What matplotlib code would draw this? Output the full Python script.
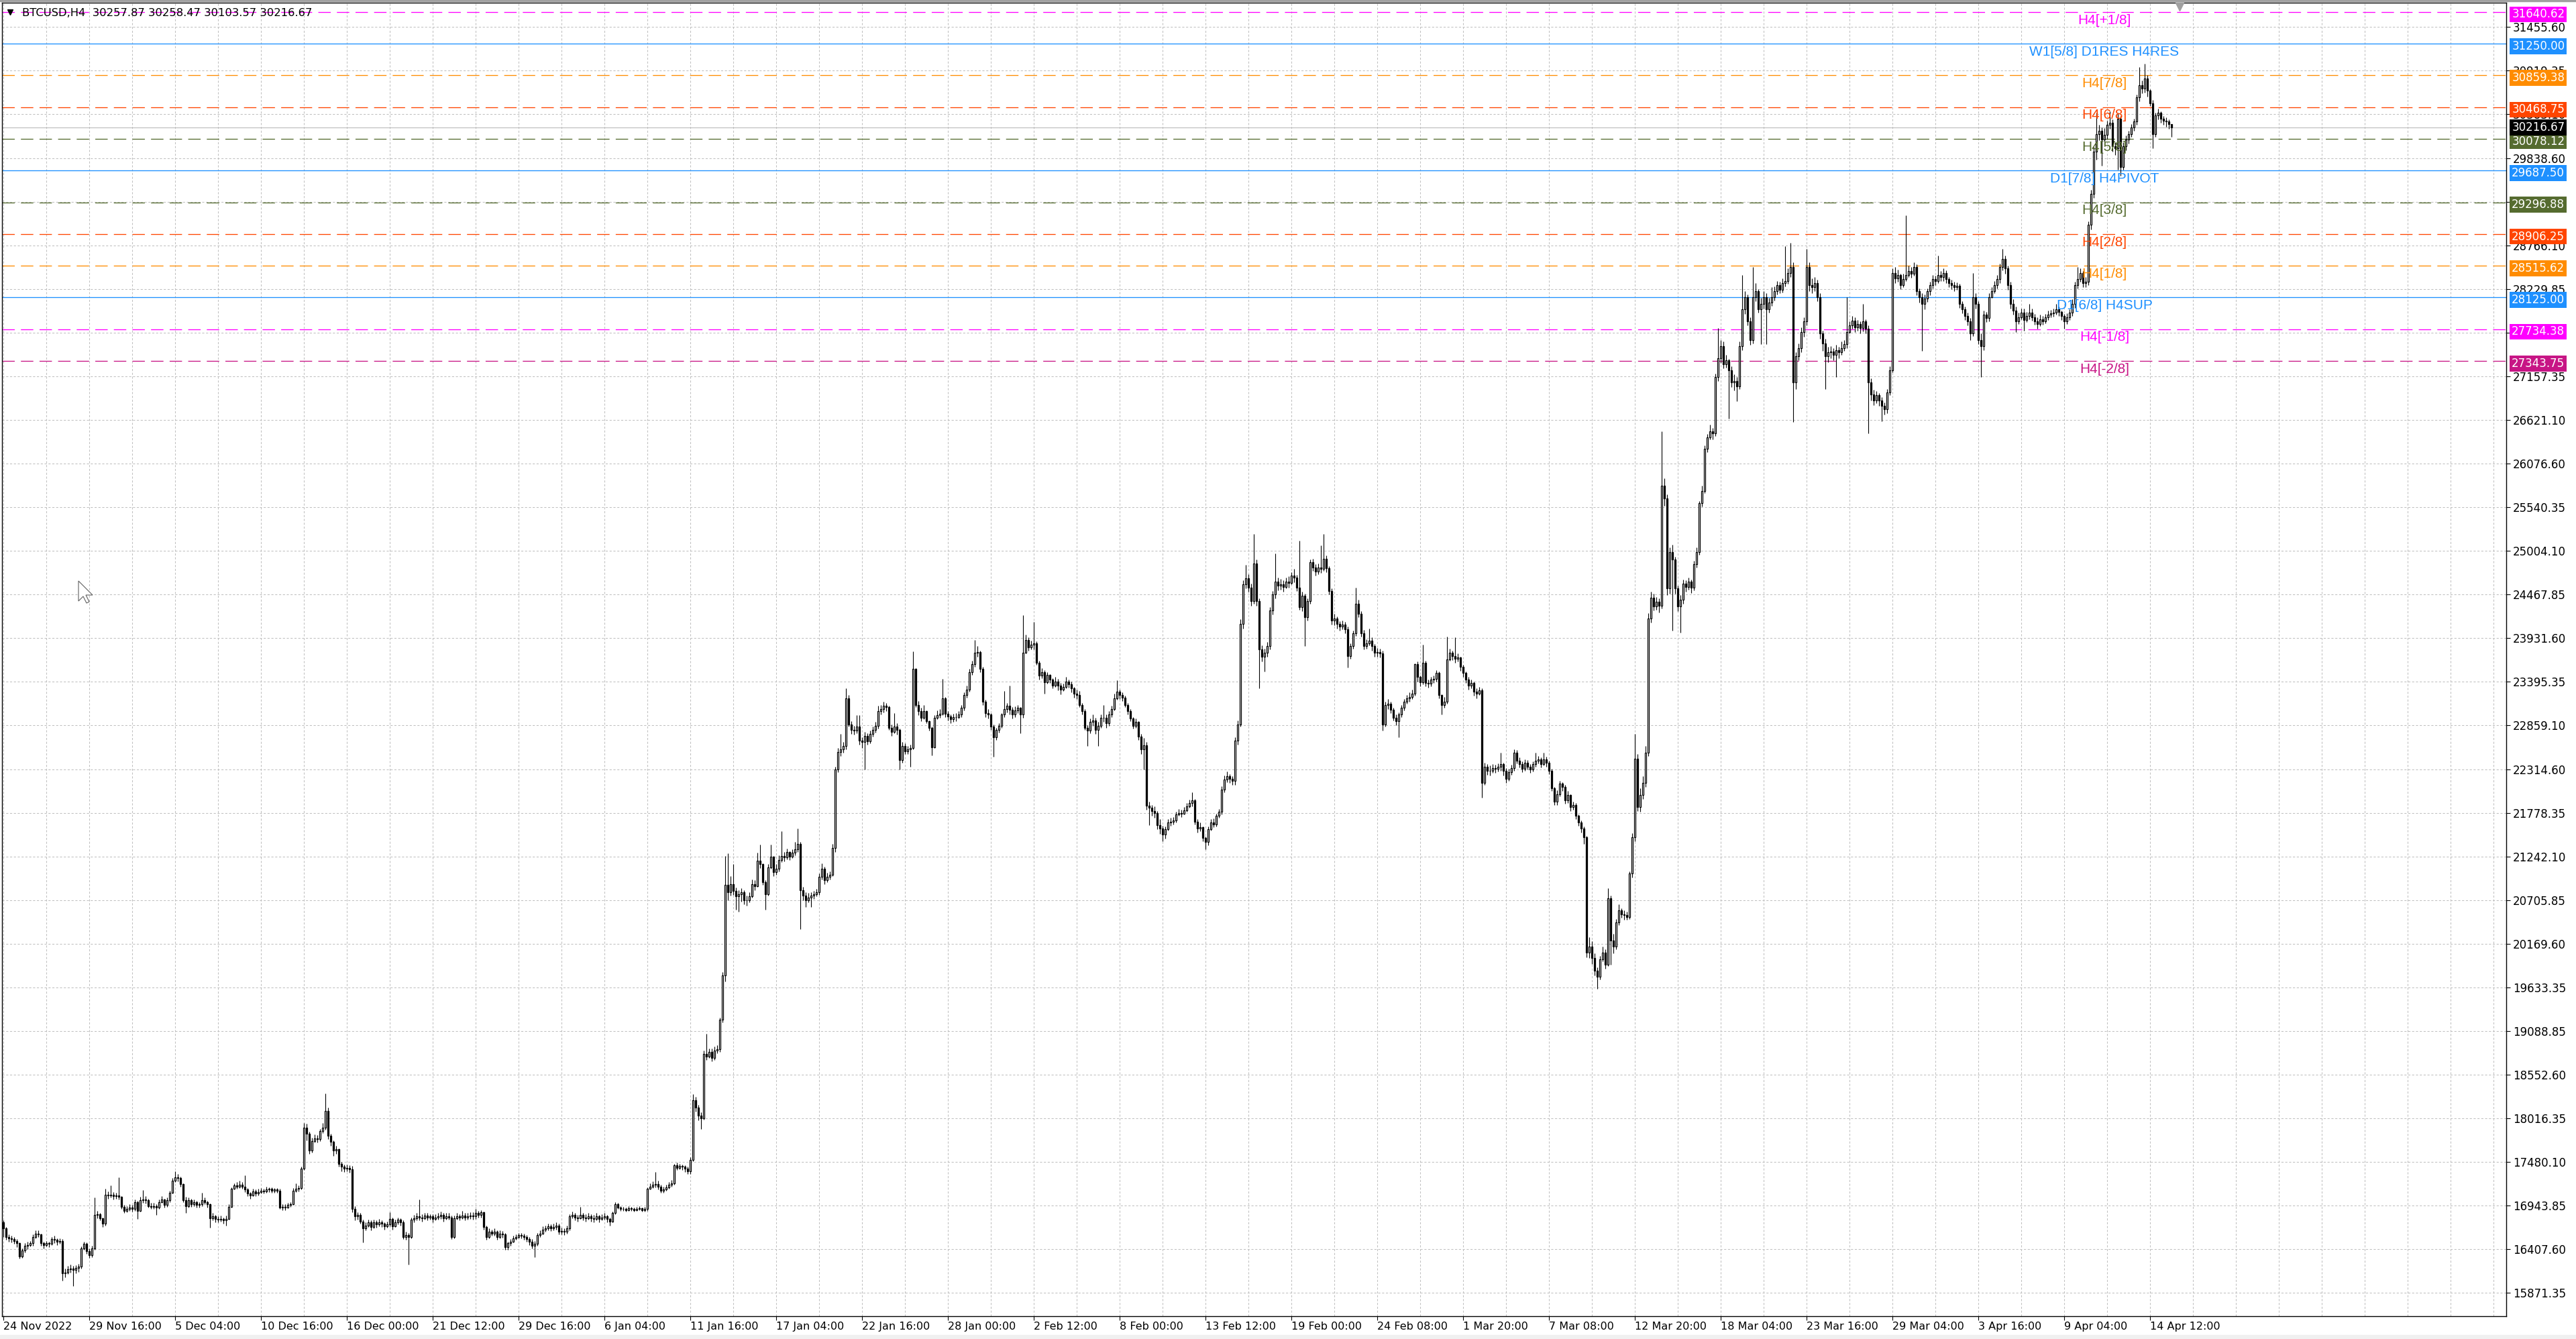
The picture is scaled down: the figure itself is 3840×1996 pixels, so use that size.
import matplotlib.pyplot as plt
import numpy as np
from matplotlib.patches import Polygon, Rectangle
from matplotlib.transforms import blended_transform_factory

# BTCUSD H4 candles, one row = 16 bars (one grid cell)
first_open = 16740.0
closes = [
    16660, 16560, 16540, 16530, 16510, 16480, 16320, 16390, 16450, 16460, 16480, 16560, 16600, 16590, 16480, 16460,
    16480, 16470, 16530, 16520, 16500, 16510, 16110, 16120, 16160, 16170, 16150, 16180, 16190, 16420, 16470, 16380,
    16330, 16420, 16830, 16840, 16790, 16720, 17080, 17070, 17080, 17060, 17070, 17050, 16930, 16880, 16900, 16920,
    16900, 16990, 16880, 17010, 17020, 17010, 16940, 16930, 16940, 16920, 16990, 17020, 16950, 17010, 17100, 17250,
    17290, 17280, 17210, 17010, 16940, 17010, 16960, 16990, 16950, 16960, 17010, 16990, 16960, 16790, 16810, 16780,
    16770, 16780, 16760, 16780, 16930, 17150, 17190, 17180, 17200, 17180, 17140, 17090, 17070, 17120, 17090, 17110,
    17130, 17120, 17140, 17150, 17130, 17140, 17130, 16920, 16930, 16920, 16950, 16960, 17130, 17150, 17160, 17400,
    17900, 17830, 17620, 17740, 17770, 17760, 17860, 17900, 18110, 17800, 17730, 17620, 17640, 17460, 17420, 17400,
    17410, 17390, 16900, 16810, 16830, 16750, 16660, 16700, 16740, 16680, 16740, 16710, 16740, 16720, 16690, 16710,
    16780, 16690, 16740, 16770, 16740, 16560, 16580, 16560, 16770, 16790, 16810, 16800, 16790, 16820, 16800, 16810,
    16780, 16800, 16810, 16830, 16790, 16810, 16800, 16560, 16790, 16810, 16800, 16820, 16800, 16810, 16820, 16810,
    16850, 16830, 16860, 16680, 16560, 16620, 16600, 16620, 16560, 16600, 16590, 16430, 16480, 16500, 16540, 16560,
    16580, 16570, 16560, 16530, 16500, 16450, 16470, 16580, 16600, 16650, 16660, 16690, 16660, 16680, 16700, 16620,
    16630, 16620, 16660, 16810, 16830, 16800, 16790, 16830, 16800, 16790, 16810, 16790, 16780, 16810, 16780, 16800,
    16810, 16780, 16750, 16850, 16960, 16920, 16900, 16900, 16890, 16910, 16900, 16890, 16900, 16910, 16890, 16900,
    17150, 17180, 17200, 17210, 17180, 17130, 17140, 17170, 17200, 17220, 17440, 17410, 17430, 17420, 17400, 17370,
    17510, 18240, 18150, 18050, 18020, 18810, 18780, 18840, 18760, 18850, 18870, 19230, 19780, 20890, 20800, 20900,
    20820, 20750, 20780, 20800, 20700, 20700, 20750, 20900, 20880, 21190, 21150, 20930, 20780, 21110, 21240, 21050,
    21090, 21200, 21250, 21230, 21300, 21240, 21290, 21330, 21400, 20830, 20760, 20700, 20740, 20760, 20780, 20800,
    20990, 21090, 20950, 20990, 21020, 21350, 22310, 22530, 22560, 22600, 23190, 22870, 22800, 22790, 22840, 22670,
    22650, 22730, 22660, 22750, 22800, 22850, 23030, 23060, 23100, 23080, 22830, 22780, 22840, 22800, 22430, 22600,
    22540, 22560, 22580, 23550, 23110, 23030, 22950, 23030, 22910, 22830, 22590, 22950, 22980, 23000, 23190, 23000,
    22970, 22930, 22960, 22960, 22990, 23070, 23230, 23300, 23510, 23610, 23750, 23760, 23550, 23150, 23010, 22990,
    22840, 22710, 22800, 22850, 22990, 23060, 23100, 23050, 22990, 23040, 23070, 22990, 23750, 23910, 23820, 23850,
    23870, 23630, 23470, 23510, 23390, 23480, 23420, 23350, 23400, 23350, 23300, 23330, 23400, 23360, 23310, 23250,
    23230, 23110, 23030, 22830, 22790, 22900, 22920, 22800, 22850, 22950, 22950, 22880, 22990, 23060, 23190, 23270,
    23230, 23200, 23110, 23030, 22940, 22850, 22900, 22720, 22560, 22610, 21870, 21840, 21800, 21780, 21630, 21590,
    21510, 21580, 21660, 21670, 21690, 21760, 21780, 21770, 21810, 21860, 21900, 21930, 21670, 21590, 21600, 21470,
    21420, 21580, 21660, 21640, 21740, 21790, 22070, 22190, 22230, 22200, 22170, 22670, 22870, 24110, 24590, 24670,
    24550, 24390, 24850, 24390, 23790, 23700, 23750, 23830, 24270, 24470, 24630, 24580, 24590, 24560, 24630, 24610,
    24700, 24680, 24550, 24310, 24450, 24190, 24390, 24870, 24800, 24750, 24800, 24780, 24910, 24790, 24510, 24150,
    24170, 24110, 24070, 24100, 24040, 23710, 23830, 23990, 24350, 24230, 23990, 23830, 23870, 23900, 23830, 23750,
    23760, 23740, 22870, 23110, 23120, 23050, 22950, 22910, 22990, 23070, 23150, 23190, 23210, 23250, 23610, 23450,
    23390, 23630, 23380, 23370, 23420, 23430, 23500, 23230, 23110, 23150, 23670, 23750, 23710, 23680, 23690, 23580,
    23500, 23420, 23350, 23380, 23270, 23250, 23290, 22150, 22350, 22300, 22300, 22330, 22320, 22350, 22380, 22300,
    22200, 22280, 22330, 22520, 22420, 22380, 22320, 22400, 22350, 22310, 22380, 22420, 22440, 22380, 22440, 22400,
    22300, 22080, 21920, 22010, 22140, 22100, 21930, 22000, 21850, 21880, 21740, 21660, 21590, 21480, 20060, 20130,
    19990, 19840, 19760, 19980, 20060, 19910, 20730, 20210, 20130, 20430, 20580, 20530, 20520, 20500, 21030, 21480,
    22450, 21850, 22000, 22150, 22520, 24170, 24430, 24320, 24380, 24330, 25810, 25650, 24540, 24990, 24900, 24540,
    24320, 24400, 24600, 24560, 24630, 24550, 24840, 24990, 25590, 25740, 26260, 26400, 26480, 26450, 27150, 27380,
    27530, 27300, 27350, 27230, 27080, 27100, 27030, 27530, 27980, 28130, 27830, 27600, 28130, 28200, 27980, 28050,
    28130, 27980, 28060, 28130, 28200, 28280, 28220, 28300, 28330, 28430, 28500, 27080, 27400, 27500, 27700, 27830,
    28500, 28280, 28250, 28300, 28130, 27680, 27560, 27400, 27450, 27460, 27420, 27480, 27450, 27500, 27550, 27700,
    27780, 27840, 27760, 27800, 27750, 27830, 27740, 27080, 26930, 26860, 26920, 26860, 26790, 26750, 26960, 27230,
    28430, 28360, 28400, 28280, 28350, 28400, 28450, 28420, 28500, 28200, 28130, 28050, 28110, 28200, 28280, 28350,
    28330, 28400, 28380, 28430, 28350, 28300, 28280, 28250, 28270, 28050, 27980, 27900, 27830, 27680, 28130, 28050,
    27600, 27530, 27910, 27870, 28130, 28200, 28280, 28350, 28500, 28600, 28480, 28280, 28050, 27960, 27830, 27880,
    27940, 27850, 27900, 27940, 27880, 27830, 27800, 27860, 27830, 27880, 27910, 27930, 27940, 27980, 27950, 27900,
    27830, 27880, 27940, 28050, 28280, 28350, 28430, 28300, 28320, 29020, 29400, 29920, 30140, 30180, 30070, 30130,
    30250, 30280, 29990, 29960, 30330, 29730, 29990, 30070, 30140, 30220, 30290, 30590, 30740, 30700, 30820, 30670,
    30520, 30140, 30370, 30400, 30330, 30300, 30290, 30257.87, 30216.67,
]
highs = [
    16760, 16680, 16590, 16570, 16560, 16530, 16490, 16420, 16480, 16500, 16510, 16590, 16640, 16640, 16600, 16500,
    16510, 16500, 16560, 16570, 16540, 16540, 16530, 16170, 16200, 16220, 16200, 16210, 16230, 16440, 16500, 16490,
    16420, 16450, 17040, 16880, 16850, 16800, 17150, 17120, 17190, 17110, 17100, 17290, 17060, 16950, 16940, 16960,
    16950, 17020, 17000, 17050, 17135, 17060, 17030, 16980, 16980, 16960, 17020, 17060, 17030, 17040, 17130, 17280,
    17370, 17330, 17300, 17220, 17050, 17040, 17030, 17020, 17000, 16990, 17100, 17040, 17000, 16970, 16850, 16830,
    16810, 16820, 16800, 16820, 16960, 17170, 17220, 17230, 17250, 17230, 17315, 17160, 17110, 17150, 17140, 17150,
    17160, 17150, 17180, 17170, 17170, 17160, 17160, 17150, 16960, 16960, 16980, 16990, 17160, 17220, 17190, 17420,
    17960, 17950, 17850, 17780, 17820, 17810, 17890, 17960, 18325, 18150, 17830, 17750, 17680, 17650, 17480, 17450,
    17450, 17440, 17430, 16940, 16860, 16850, 16770, 16740, 16770, 16760, 16770, 16760, 16780, 16760, 16740, 16750,
    16860, 16800, 16770, 16800, 16790, 16760, 16620, 16610, 16800, 16830, 16850, 17020, 16840, 16850, 16850, 16840,
    16840, 16840, 16850, 16870, 16850, 16850, 16850, 16820, 16820, 16850, 16840, 16880, 16850, 16850, 16860, 16860,
    16900, 16880, 16890, 16870, 16700, 16660, 16650, 16660, 16640, 16640, 16630, 16610, 16500, 16530, 16570, 16590,
    16610, 16610, 16600, 16580, 16560, 16530, 16510, 16610, 16640, 16690, 16700, 16720, 16710, 16720, 16740, 16720,
    16670, 16660, 16700, 16840, 16870, 16850, 16830, 16930, 16850, 16840, 16850, 16840, 16830, 16850, 16830, 16840,
    16850, 16830, 16800, 16870, 16990, 16980, 16940, 16930, 16920, 16940, 16930, 16920, 16930, 16940, 16920, 16930,
    17170, 17220, 17240, 17360, 17250, 17200, 17180, 17200, 17230, 17260, 17460, 17470, 17460, 17450, 17440, 17420,
    17540, 18320, 18280, 18180, 18090, 18850, 19060, 18880, 18880, 18900, 18920, 19260, 19820, 21250, 21280, 21000,
    21150, 20860, 20830, 20850, 20830, 20760, 20800, 20960, 20950, 21290, 21390, 21160, 20950, 21150, 21390, 21250,
    21150, 21260, 21550, 21300, 21340, 21310, 21330, 21420, 21590, 21420, 20870, 20800, 20790, 20800, 20820, 20840,
    21030, 21160, 21120, 21040, 21060, 21400, 22350, 22580, 22750, 22650, 23310, 23230, 22910, 22850, 22980, 22980,
    22710, 22780, 22760, 22790, 22840, 22900, 23100, 23110, 23150, 23130, 23100, 22870, 23010, 22880, 22820, 22650,
    22640, 22600, 22620, 23770, 23560, 23160, 23070, 23110, 23040, 22920, 22840, 22980, 23040, 23060, 23430, 23210,
    23030, 22990, 23000, 23010, 23030, 23110, 23260, 23350, 23550, 23650, 23910, 23830, 23780, 23580, 23170, 23060,
    23010, 22870, 22830, 22880, 23010, 23280, 23130, 23350, 23080, 23090, 23110, 23080, 24210, 23970, 23940, 23900,
    24130, 23890, 23650, 23560, 23540, 23510, 23490, 23440, 23450, 23430, 23380, 23370, 23450, 23420, 23400, 23330,
    23300, 23280, 23130, 23060, 22860, 22940, 22990, 22950, 22900, 22990, 23110, 22990, 23030, 23100, 23250, 23410,
    23300, 23260, 23220, 23130, 23060, 22960, 22940, 22910, 22750, 22700, 22650, 21920, 21880, 21860, 21800, 21700,
    21620, 21610, 21700, 21720, 21730, 21790, 21830, 21820, 21850, 21900, 21940, 22030, 21950, 21700, 21660, 21610,
    21490, 21610, 21700, 21710, 21770, 21830, 22110, 22240, 22290, 22260, 22230, 22710, 22920, 24160, 24640, 24830,
    24720, 24600, 25210, 24900, 24420, 23840, 23800, 23880, 24310, 24510, 24970, 24680, 24660, 24640, 24680, 24690,
    24740, 24780, 24710, 25130, 24500, 24480, 24420, 24900, 24910, 24840, 24850, 25070, 25210, 24950, 24820, 24540,
    24230, 24200, 24140, 24150, 24130, 24070, 23870, 24020, 24550, 24400, 24260, 24030, 23920, 24050, 23940, 23860,
    23810, 23800, 23780, 23150, 23180, 23150, 23070, 22990, 23020, 23110, 23180, 23230, 23260, 23300, 23620, 23640,
    23470, 23850, 23650, 23420, 23450, 23470, 23540, 23520, 23240, 23210, 23950, 23800, 23780, 23940, 23740, 23700,
    23600, 23520, 23450, 23420, 23400, 23310, 23330, 23310, 22400, 22380, 22360, 22380, 22370, 22390, 22520, 22400,
    22330, 22320, 22370, 22560, 22550, 22460, 22410, 22440, 22430, 22380, 22410, 22520, 22480, 22460, 22520, 22470,
    22420, 22320, 22100, 22060, 22170, 22160, 22120, 22050, 22010, 21920, 21900, 21760, 21690, 21610, 21500, 20250,
    20200, 20050, 19880, 20020, 20130, 20100, 20850, 20760, 20290, 20470, 20650, 20600, 20580, 20560, 21060, 21530,
    22750, 22500, 22080, 22230, 22600, 24240, 24500, 24480, 24440, 24420, 26480, 25900, 25700, 25050, 25080, 24930,
    24580, 24460, 24650, 24640, 24680, 24650, 24880, 25050, 25620, 25810, 26300, 26440, 26560, 26520, 27190, 27750,
    27600, 27580, 27420, 27370, 27280, 27180, 27150, 27580, 28400, 28200, 28160, 27880, 28500, 28300, 28230, 28120,
    28200, 28180, 28120, 28250, 28260, 28330, 28320, 28360, 28760, 28480, 28800, 28560, 27450, 27560, 27760, 27880,
    28720, 28560, 28360, 28380, 28340, 28180, 27720, 27620, 27520, 27530, 27500, 27540, 27520, 27580, 27600, 28130,
    27830, 27900, 27880, 27850, 27830, 28050, 27860, 27780, 27130, 26990, 26970, 26950, 26900, 26830, 27000, 27280,
    28480, 28500, 28470, 28420, 28420, 29140, 28520, 28500, 28560, 28530, 28240, 28180, 28160, 28240, 28320, 28400,
    28390, 28640, 28450, 28480, 28460, 28380, 28340, 28320, 28310, 28290, 28080, 28010, 27940, 27870, 28430, 28180,
    28080, 27680, 27960, 27950, 28180, 28250, 28330, 28400, 28540, 28720, 28640, 28520, 28320, 28100, 28010, 27940,
    27990, 27990, 27950, 28050, 27990, 27920, 27880, 27910, 27900, 27920, 27960, 27970, 27990, 28050, 28010, 27960,
    27920, 27930, 27980, 28100, 28320, 28500, 28480, 28450, 28380, 29060, 29450, 29980, 30400, 30250, 30220, 30210,
    30300, 30420, 30320, 30040, 30400, 30360, 30040, 30120, 30180, 30260, 30330, 30620, 30960, 30800, 31000, 30860,
    30690, 30560, 30400, 30450, 30420, 30360, 30340, 30320, 30258.47,
]
lows = [
    16560, 16520, 16500, 16490, 16470, 16430, 16290, 16300, 16370, 16410, 16440, 16450, 16540, 16560, 16450, 16420,
    16440, 16430, 16460, 16480, 16460, 16470, 16020, 16060, 16100, 16120, 15950, 16110, 16130, 16170, 16400, 16350,
    16300, 16310, 16400, 16790, 16760, 16680, 16700, 17030, 17040, 17020, 17030, 17020, 16900, 16850, 16860, 16880,
    16870, 16880, 16780, 16870, 16980, 16970, 16920, 16900, 16900, 16830, 16900, 16980, 16920, 16930, 16990, 17090,
    17230, 17240, 17180, 16990, 16850, 16920, 16930, 16940, 16920, 16920, 16940, 16960, 16920, 16670, 16760, 16740,
    16740, 16750, 16720, 16700, 16770, 16920, 17140, 17150, 17160, 17150, 17110, 17060, 17030, 17060, 17060, 17070,
    17090, 17090, 17100, 17110, 17100, 17100, 17100, 16900, 16890, 16890, 16910, 16930, 16950, 17110, 17120, 17140,
    17380, 17750, 17580, 17600, 17720, 17720, 17740, 17840, 17880, 17760, 17680, 17560, 17580, 17420, 17370, 17360,
    17370, 17350, 16860, 16760, 16770, 16720, 16490, 16640, 16680, 16640, 16660, 16670, 16690, 16680, 16650, 16670,
    16690, 16650, 16680, 16710, 16700, 16530, 16520, 16220, 16540, 16740, 16760, 16760, 16750, 16770, 16760, 16770,
    16740, 16760, 16770, 16780, 16750, 16770, 16770, 16530, 16540, 16770, 16760, 16780, 16760, 16770, 16780, 16770,
    16780, 16800, 16800, 16650, 16520, 16540, 16570, 16570, 16520, 16540, 16550, 16400, 16400, 16450, 16490, 16520,
    16540, 16540, 16520, 16500, 16460, 16420, 16305, 16450, 16560, 16590, 16620, 16640, 16630, 16640, 16650, 16590,
    16590, 16580, 16600, 16640, 16790, 16760, 16750, 16780, 16760, 16750, 16770, 16750, 16740, 16760, 16740, 16760,
    16770, 16740, 16700, 16740, 16840, 16900, 16880, 16880, 16870, 16880, 16880, 16870, 16880, 16890, 16870, 16870,
    16880, 17140, 17160, 17170, 17140, 17100, 17100, 17130, 17150, 17180, 17200, 17380, 17390, 17380, 17360, 17330,
    17330, 17490, 18100, 17990, 17885, 18000, 18740, 18760, 18720, 18740, 18820, 18840, 19200, 19700, 20700, 20760,
    20770, 20590, 20560, 20690, 20650, 20640, 20680, 20740, 20830, 20870, 21100, 20890, 20590, 20760, 21090, 21000,
    21020, 21060, 21170, 21180, 21210, 21200, 21220, 21260, 21300, 20350, 20700, 20620, 20680, 20620, 20720, 20750,
    20770, 20960, 20900, 20930, 20960, 21000, 21300, 22280, 22480, 22520, 22560, 22840, 22750, 22740, 22760, 22620,
    22580, 22310, 22620, 22640, 22720, 22770, 22820, 22990, 23020, 23030, 22800, 22730, 22760, 22740, 22310, 22400,
    22500, 22500, 22350, 22560, 23080, 22980, 22910, 22930, 22880, 22790, 22490, 22580, 22930, 22950, 22980, 22960,
    22920, 22880, 22900, 22910, 22940, 22960, 23040, 23200, 23270, 23480, 23580, 23700, 23510, 23110, 22960, 22940,
    22800, 22470, 22680, 22770, 22830, 22960, 23020, 22990, 22940, 22960, 23010, 22760, 22950, 23740, 23780, 23790,
    23790, 23600, 23420, 23440, 23250, 23370, 23380, 23310, 23330, 23290, 23240, 23280, 23310, 23320, 23260, 23200,
    23180, 23080, 22990, 22800, 22600, 22760, 22850, 22750, 22600, 22830, 22900, 22830, 22850, 22960, 23040, 23170,
    23180, 23160, 23080, 22990, 22910, 22820, 22830, 22680, 22500, 22310, 21820, 21630, 21740, 21720, 21580, 21520,
    21430, 21460, 21560, 21620, 21640, 21660, 21740, 21730, 21760, 21790, 21840, 21860, 21640, 21540, 21550, 21430,
    21330, 21380, 21560, 21600, 21610, 21720, 21760, 22030, 22160, 22150, 22120, 22120, 22620, 22840, 24050, 24540,
    24500, 24330, 24350, 24330, 23310, 23640, 23520, 23700, 23790, 24220, 24420, 24520, 24530, 24500, 24540, 24550,
    24590, 24620, 24510, 24280, 24260, 23830, 24150, 24350, 24760, 24700, 24720, 24730, 24760, 24740, 24470, 24100,
    24090, 24050, 24020, 24040, 23990, 23570, 23680, 23800, 23960, 24190, 23950, 23790, 23800, 23840, 23780, 23700,
    23700, 23690, 22790, 22840, 23060, 23010, 22920, 22860, 22710, 22960, 23040, 23120, 23150, 23180, 23220, 23400,
    23340, 23360, 23340, 23320, 23340, 23380, 23400, 23190, 22990, 23070, 23120, 23650, 23660, 23630, 23640, 23530,
    23450, 23380, 23300, 23310, 23220, 23190, 23230, 21965, 22120, 22250, 22240, 22270, 22270, 22290, 22300, 22240,
    22150, 22170, 22250, 22300, 22390, 22340, 22280, 22300, 22310, 22270, 22290, 22350, 22390, 22340, 22360, 22350,
    22260, 22050, 21880, 21880, 21980, 22050, 21890, 21900, 21800, 21820, 21700, 21620, 21540, 21400, 20000, 19990,
    19920, 19780, 19610, 19730, 19950, 19860, 19890, 19910, 20050, 20100, 20400, 20490, 20460, 20460, 20470, 20980,
    21430, 21800, 21790, 21950, 22100, 22480, 24120, 24270, 24280, 24250, 24300, 25560, 24460, 24480, 24020, 24480,
    24260, 24000, 24350, 24500, 24530, 24490, 24520, 24800, 24960, 25550, 25720, 26220, 26380, 26380, 26420, 27100,
    27320, 27250, 27260, 26630, 27020, 26980, 26850, 27000, 27480, 27920, 27780, 27540, 27560, 28080, 27940, 27550,
    27990, 27550, 27940, 28020, 28090, 28160, 28180, 28190, 28260, 28290, 28380, 26590, 27000, 27350, 27450, 27640,
    27780, 28200, 28180, 28200, 28080, 27620, 27470, 27000, 27330, 27380, 27350, 27150, 27380, 27420, 27470, 27500,
    27680, 27740, 27700, 27720, 27680, 27710, 27680, 26450, 26860, 26800, 26820, 26790, 26600, 26680, 26700, 26920,
    27200, 28300, 28320, 28230, 28250, 28330, 28380, 28370, 28390, 28150, 28060, 27470, 27980, 28070, 28150, 28240,
    28280, 28300, 28330, 28330, 28300, 28250, 28230, 28200, 28220, 28000, 27930, 27850, 27780, 27600, 27650, 27990,
    27550, 27150, 27480, 27820, 27830, 28120, 28180, 28240, 28300, 28460, 28420, 28220, 27990, 27910, 27700, 27800,
    27860, 27720, 27820, 27860, 27840, 27790, 27740, 27770, 27790, 27810, 27850, 27880, 27890, 27910, 27900, 27850,
    27740, 27800, 27850, 27900, 28000, 28240, 28320, 28250, 28250, 28280, 28960, 29350, 29820, 30060, 29750, 29990,
    30080, 30200, 29920, 29880, 29700, 29620, 29700, 29940, 30020, 30100, 30180, 30250, 30540, 30640, 30650, 30600,
    30480, 29960, 30100, 30320, 30280, 30250, 30230, 30200, 30103.57,
]

tick_prices = [
    15871.35, 16407.60, 16943.85, 17480.10, 18016.35, 18552.60, 19088.85, 19633.35, 20169.60, 20705.85,
    21242.10, 21778.35, 22314.60, 22859.10, 23395.35, 23931.60, 24467.85, 25004.10, 25540.35, 26076.60,
    26621.10, 27157.35, 27693.60, 28229.85, 28766.10, 29302.35, 29838.60, 30383.10, 30919.35, 31455.60,
]
date_labels = [
    "24 Nov 2022", "29 Nov 16:00", "5 Dec 04:00", "10 Dec 16:00", "16 Dec 00:00", "21 Dec 12:00",
    "29 Dec 16:00", "6 Jan 04:00", "11 Jan 16:00", "17 Jan 04:00", "22 Jan 16:00", "28 Jan 00:00",
    "2 Feb 12:00", "8 Feb 00:00", "13 Feb 12:00", "19 Feb 00:00", "24 Feb 08:00", "1 Mar 20:00",
    "7 Mar 08:00", "12 Mar 20:00", "18 Mar 04:00", "23 Mar 16:00", "29 Mar 04:00", "3 Apr 16:00",
    "9 Apr 04:00", "14 Apr 12:00",
]

# Murrey math levels
level_prices = [31640.62, 31250.00, 30859.38, 30468.75, 30078.12, 29687.50,
                29296.88, 28906.25, 28515.62, 28125.00, 27734.38, 27343.75]
level_names = ["H4[+1/8]", "W1[5/8] D1RES H4RES", "H4[7/8]", "H4[6/8]", "H4[5/8]", "D1[7/8] H4PIVOT",
               "H4[3/8]", "H4[2/8]", "H4[1/8]", "D1[6/8] H4SUP", "H4[-1/8]", "H4[-2/8]"]
level_colors = ["#ff00ff", "#1e90ff", "#ff8c00", "#ff4500", "#556b2f", "#1e90ff",
                "#556b2f", "#ff4500", "#ff8c00", "#1e90ff", "#ff00ff", "#c71585"]
level_dashed = [True, False, True, True, True, False, True, True, True, False, True, True]
current_price = 30216.67
title = "BTCUSD,H4  30257.87 30258.47 30103.57 30216.67"

plt.rcParams["font.family"] = ["DejaVu Sans"]

n = min(len(closes), len(highs), len(lows))
x = np.arange(n)
c = np.array(closes[:n], float)
o = np.r_[first_open, c[:-1]]
h = np.maximum(np.array(highs[:n], float), np.maximum(o, c))
l = np.minimum(np.array(lows[:n], float), np.minimum(o, c))
up = c >= o

W, H = 3840, 1996
fig = plt.figure(figsize=(W / 100, H / 100), dpi=100, facecolor="white")
ax = fig.add_axes([3 / W, 34 / H, 3733 / W, 1958 / H])
ax.set_facecolor("white")
ax.set_xlim(-0.5, 932.75)
ax.set_ylim(15582, 31755)

grid_kw = dict(color="#c0c0c0", lw=0.75, ls=(0, (3, 2.5)), zorder=0)
for p in tick_prices:
    ax.axhline(p, **grid_kw)
for b in range(0, 933, 16):
    ax.axvline(b, **grid_kw)

# level lines, labels and price boxes
trans = blended_transform_factory(ax.transAxes, ax.transData)
label_x = 783
for price, name, color, dashed in zip(level_prices, level_names, level_colors, level_dashed):
    ls = (0, (14, 7)) if dashed else "-"
    ax.axhline(price, color=color, lw=0.95, ls=ls, zorder=1)
    ax.text(label_x, price - 22, name, color=color, ha="center", va="top",
            fontsize=15, family="Liberation Sans", zorder=4)
    ax.text(1.0022, price - 30, f"{price:.2f}", transform=trans, color="white",
            fontsize=12, ha="left", va="center", zorder=8, clip_on=False,
            bbox=dict(boxstyle="square,pad=0.17", fc=color, ec="none"))

ax.axhline(current_price, color="#c0c0c0", lw=0.9, zorder=1)
ax.text(1.0022, current_price, f"{current_price:.2f}", transform=trans, color="white",
        fontsize=12, ha="left", va="center", zorder=9, clip_on=False,
        bbox=dict(boxstyle="square,pad=0.17", fc="black", ec="none"))

# candles
ax.vlines(x, l, h, color="black", lw=0.8, zorder=2)
ax.bar(x[up], (c - o)[up], bottom=o[up], width=0.6, color="white",
       edgecolor="black", linewidth=0.9, zorder=3)
ax.bar(x[~up], (o - c)[~up], bottom=c[~up], width=0.6, color="black",
       edgecolor="black", linewidth=0.9, zorder=3)

# axes
ax.yaxis.tick_right()
ax.set_yticks(tick_prices, [f"{p:.2f}" for p in tick_prices])
ax.tick_params(axis="y", length=4, width=0.8, pad=3, labelsize=12, colors="black")
ax.set_xticks(np.arange(len(date_labels)) * 32, date_labels)
for t in ax.get_xticklabels():
    t.set_ha("left")
ax.tick_params(axis="x", length=4, width=0.8, pad=2, labelsize=11.5, colors="black")
for s in ax.spines.values():
    s.set_color("black")
    s.set_linewidth(1.0)

ax.text(30 / 3733, 1 - 15 / 1958, title, transform=ax.transAxes, fontsize=11.8,
        ha="left", va="center", color="black", zorder=10)
ax.plot([12 / 3733], [1 - 14 / 1958], marker="v", ms=6, color="black",
        transform=ax.transAxes, clip_on=False, zorder=10)
ax.plot([n + 2], [1 - 6 / 1958], marker="v", ms=9, color="#a0a0a0",
        transform=blended_transform_factory(ax.transData, ax.transAxes),
        clip_on=False, zorder=10)

# window frame and mouse pointer
fig.patches.append(Rectangle((0, 0), 1, 6 / H, transform=fig.transFigure,
                             color="#f0f0f0", zorder=0))
fig.patches.append(Rectangle((0, 1 - 2 / H), 1, 2 / H, transform=fig.transFigure,
                             color="#a0a0a0", zorder=0))
cursor = np.array([[117, 866], [117, 896], [124, 889], [129, 899], [133, 897],
                   [128, 887], [138, 887]], float)
cursor[:, 1] = H - cursor[:, 1]
fig.patches.append(Polygon(cursor / [W, H], closed=True, transform=fig.transFigure,
                           fc="white", ec="#606060", lw=0.8, zorder=20))

fig.savefig("out.png", dpi=100, facecolor="white")
